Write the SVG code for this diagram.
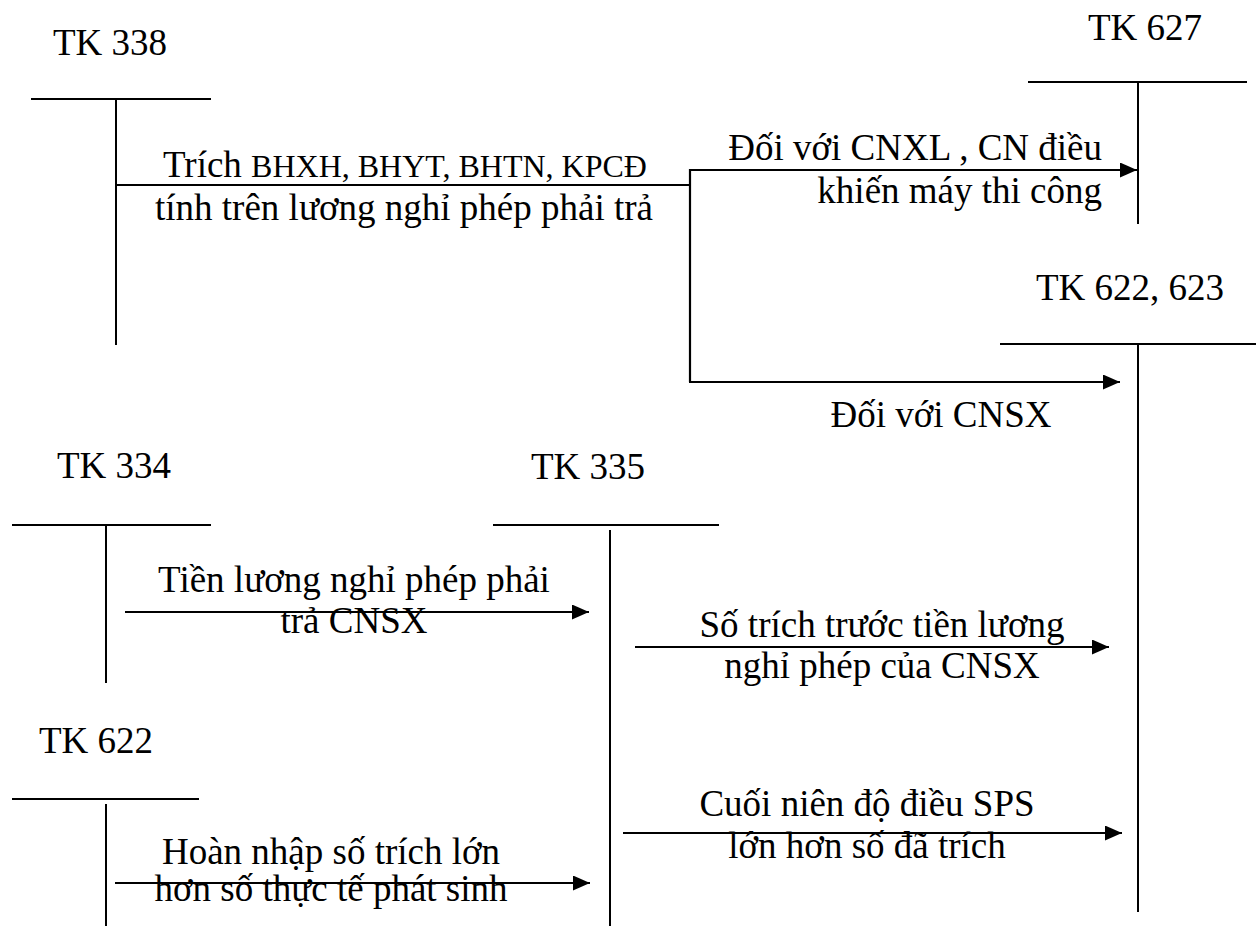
<svg xmlns="http://www.w3.org/2000/svg" width="1256" height="926" viewBox="0 0 1256 926" font-family="'Liberation Serif', 'DejaVu Serif', 'Times New Roman', serif">
<style>
text{font-family:'Liberation Serif','DejaVu Serif','Times New Roman',serif;font-size:37px;fill:#000}
.sm{font-size:32px}
.c{text-anchor:middle}
.r{text-anchor:end}
.acct line{stroke:#000;stroke-width:2}
.conn path{stroke:#000;stroke-width:2.2;fill:none}
.arr{marker-end:url(#ah)}
</style>
<defs>
<marker id="ah" markerUnits="userSpaceOnUse" markerWidth="17" markerHeight="15" refX="17" refY="7.5" orient="auto">
<path d="M0,0 L17,7.5 L0,15 z" fill="#000"/>
</marker>
</defs>
<rect width="1256" height="926" fill="#fff"/>
<g id="tk338" class="acct">
<text x="53" y="55">TK 338</text>
<line x1="31" y1="99" x2="211" y2="99"/>
<line x1="116" y1="99" x2="116" y2="345"/>
</g>
<g id="tk627" class="acct">
<text x="1088" y="40">TK 627</text>
<line x1="1028" y1="82" x2="1247" y2="82"/>
<line x1="1138" y1="82" x2="1138" y2="224"/>
</g>
<g id="tk622_623" class="acct">
<text x="1036" y="300">TK 622, 623</text>
<line x1="1000" y1="344" x2="1256" y2="344"/>
<line x1="1138" y1="344" x2="1138" y2="912"/>
</g>
<g id="tk334" class="acct">
<text x="57" y="478">TK 334</text>
<line x1="12" y1="525" x2="211" y2="525"/>
<line x1="106" y1="525" x2="106" y2="683"/>
</g>
<g id="tk335" class="acct">
<text x="531" y="479">TK 335</text>
<line x1="493" y1="525" x2="719" y2="525"/>
<line x1="610" y1="530" x2="610" y2="926"/>
</g>
<g id="tk622" class="acct">
<text x="39" y="753">TK 622</text>
<line x1="12" y1="799" x2="199" y2="799"/>
<line x1="106" y1="804" x2="106" y2="926"/>
</g>
<g id="connectors" class="conn">
<path d="M116,185 H690 M690,169 V382"/>
<path class="arr" d="M689,170 H1137"/>
<path class="arr" d="M689,382 H1120"/>
<path class="arr" d="M125,612 H589"/>
<path class="arr" d="M635,647 H1109"/>
<path class="arr" d="M115,883 H590"/>
<path class="arr" d="M623,833 H1122"/>
</g>
<g id="labels">
<text class="c" x="405" y="177">Trích <tspan class="sm">BHXH, BHYT, BHTN, KPCĐ</tspan></text>
<text class="c" x="404" y="220">tính trên lương nghỉ phép phải trả</text>
<text class="r" x="1102" y="160">Đối với CNXL , CN điều</text>
<text class="r" x="1102" y="203">khiến máy thi công</text>
<text class="c" x="941" y="427">Đối với CNSX</text>
<text class="c" x="354" y="592">Tiền lương nghỉ phép phải</text>
<text class="c" x="354" y="633">trả CNSX</text>
<text class="c" x="882" y="637">Số trích trước tiền lương</text>
<text class="c" x="882" y="678">nghỉ phép của CNSX</text>
<text class="c" x="867" y="816">Cuối niên độ điều SPS</text>
<text class="c" x="867" y="858">lớn hơn số đã trích</text>
<text class="c" x="331" y="864">Hoàn nhập số trích lớn</text>
<text class="c" x="331" y="901">hơn số thực tế phát sinh</text>
</g>
</svg>
